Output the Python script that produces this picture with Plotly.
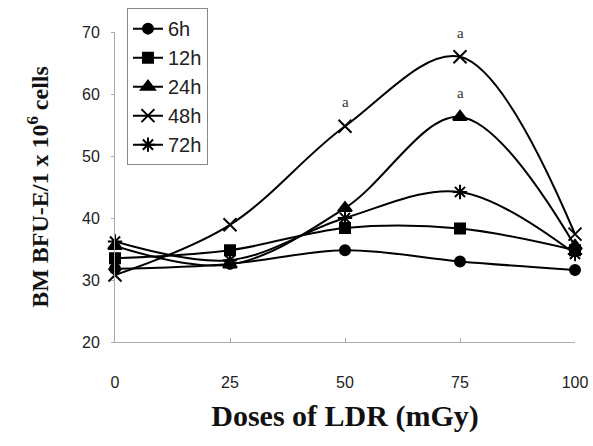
import plotly.graph_objects as go

doses = [0, 25, 50, 75, 100]
series_names = ["6h", "12h", "24h", "48h", "72h"]
v_6h = [31.8, 32.6, 34.8, 33.0, 31.6]
v_12h = [33.5, 34.8, 38.4, 38.3, 34.8]
v_24h = [35.5, 32.5, 41.6, 56.3, 35.5]
v_48h = [30.8, 38.9, 54.8, 66.0, 37.4]
v_72h = [36.2, 33.2, 40.0, 44.2, 34.2]
values = [v_6h, v_12h, v_24h, v_48h, v_72h]
y_ticks = [20, 30, 40, 50, 60, 70]
x_ticks = [0, 25, 50, 75, 100]
sig_x = [50, 75, 75]
sig_y = [54.8, 66.0, 56.3]
sig_text = ["a", "a", "a"]

symbols = ["circle", "square", "triangle-up", "x-thin-open", "asterisk-open"]
sizes = [10, 10, 12, 13, 12]

fig = go.Figure()
for name, vals, sym, sz in zip(series_names, values, symbols, sizes):
    fig.add_trace(go.Scatter(
        x=doses, y=vals, name=name, mode="lines+markers",
        line=dict(color="black", width=2, shape="spline", smoothing=1),
        marker=dict(symbol=sym, size=sz, color="black",
                    line=dict(color="black", width=2)),
        cliponaxis=False,
    ))

for xs, ys, t in zip(sig_x, sig_y, sig_text):
    fig.add_annotation(x=xs, y=ys, text=t, showarrow=False, yshift=24,
                       font=dict(family="Liberation Serif", size=15, color="#333"))

fig.update_layout(
    width=593, height=446,
    margin=dict(l=115, r=18, t=32, b=104, autoexpand=False),
    plot_bgcolor="white", paper_bgcolor="white",
    showlegend=True,
    legend=dict(x=0.026, y=1.077, xanchor="left", yanchor="top",
                bgcolor="white", bordercolor="#888", borderwidth=1,
                font=dict(family="Liberation Sans", size=20, color="#222"),
                tracegroupgap=0, itemwidth=30),
    xaxis=dict(range=[0, 100], tickvals=x_ticks, showline=True, linecolor="#aaa",
               linewidth=1, ticks="inside", ticklen=4, tickcolor="#aaa",
               showgrid=False, zeroline=False, ticklabelstandoff=26,
               tickfont=dict(family="Liberation Sans", size=16, color="#222"),
               title=dict(text="<b>Doses of LDR (mGy)</b>", standoff=14,
                          font=dict(family="Liberation Serif", size=30, color="#111"))),
    yaxis=dict(range=[20, 70], tickvals=y_ticks, showline=True, linecolor="#aaa",
               linewidth=1, ticks="outside", ticklen=3, tickcolor="#aaa",
               showgrid=False, zeroline=False, ticklabelstandoff=8,
               tickfont=dict(family="Liberation Sans", size=16, color="#222"),
               title=dict(text="<b>BM BFU-E/1 x 10<sup>6</sup> cells</b>", standoff=26,
                          font=dict(family="Liberation Serif", size=24, color="#111"))),
)

fig.write_html("out.html")
